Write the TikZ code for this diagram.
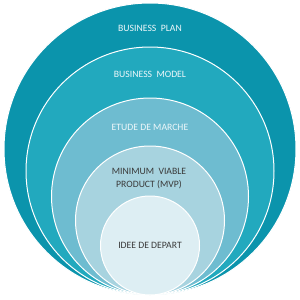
\documentclass[tikz,border=0pt]{standalone}
\usepackage{fontspec}
\setmainfont{Carlito}
\definecolor{cA}{HTML}{0B94AC}
\definecolor{cB}{HTML}{22A9BE}
\definecolor{cC}{HTML}{6EBCD0}
\definecolor{cD}{HTML}{A7D3DF}
\definecolor{cE}{HTML}{DDEEF3}
\definecolor{txtL}{HTML}{EEF7FA}
\definecolor{txtD}{HTML}{3A3A3A}
\begin{document}
\begin{tikzpicture}[x=1pt,y=-1pt,
  ring/.style={circle,draw=white,line width=1pt,inner sep=0pt},
  lbl/.style={font=\fontsize{9.7}{13}\selectfont,align=center,inner sep=0pt}]
\useasboundingbox (0,0) rectangle (300,300);
\node[ring,fill=cA,minimum size=292pt] (c1) at (150,149) {};
\node[ring,fill=cB,minimum size=248pt] (c2) at (150,171) {};
\node[ring,fill=cC,minimum size=197pt] (c3) at (150,196.5) {};
\node[ring,fill=cD,minimum size=149pt] (c4) at (150,220.5) {};
\node[ring,fill=cE,minimum size=99pt] (c5) at (150,245.5) {};
\node[lbl,text=txtL] (t1) at (150,28) {BUSINESS\ \ PLAN};
\node[lbl,text=txtL] (t2) at (150,74.5) {BUSINESS\ \ MODEL};
\node[lbl,text=txtL] (t3) at (150,127) {ETUDE DE MARCHE};
\node[lbl,text=txtD] (t4) at (149,178.5) {MINIMUM\ \ VIABLE\\PRODUCT (MVP)};
\node[lbl,text=txtD] (t5) at (150,245.5) {IDEE DE DEPART};
\end{tikzpicture}
\end{document}
